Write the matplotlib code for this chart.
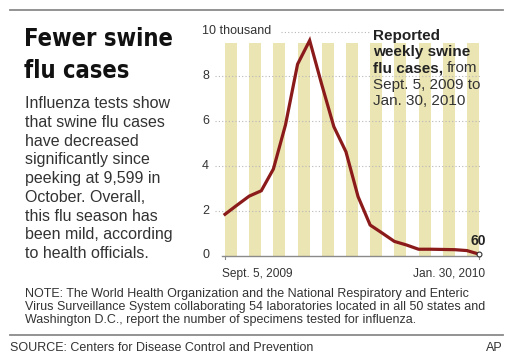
import matplotlib
matplotlib.use("Agg")
import matplotlib.pyplot as plt

# weekly reported swine flu cases (thousands), Sept. 5, 2009 .. Jan. 30, 2010
weeks = list(range(22))
cases = [1.84, 2.25, 2.65, 2.89, 3.86, 5.83, 8.54, 9.599, 7.63, 5.75, 4.63,
         2.63, 1.36, 1.00, 0.63, 0.47, 0.28, 0.28, 0.27, 0.26, 0.22, 0.06]
yticks = [0, 2, 4, 6, 8, 10]
ytick_labels = ["0", "2", "4", "6", "8", "10 thousand"]
first_label = "Sept. 5, 2009"
last_label = "Jan. 30, 2010"
last_value_label = "60"

W, H = 512, 361
plt.rcParams['font.family'] = ['Liberation Sans', 'DejaVu Sans']

fig = plt.figure(figsize=(W / 100, H / 100), dpi=100)
fig.patch.set_facecolor("white")


def fx(x):
    return x / W


def fy(y):
    return 1 - y / H


txt = "#333333"
line_red = "#8b1a1a"
stripe = "#ebe4b3"
grid = "#b8b8b8"

# top and bottom rules
fig.add_artist(plt.Line2D([fx(10), fx(503)], [fy(10), fy(10)], color="#8a8a8a", lw=1.3))
fig.add_artist(plt.Line2D([fx(10), fx(503)], [fy(335), fy(335)], color="#8a8a8a", lw=1.3))

# headline (va='baseline' on multi-line text anchors the last line)
fig.text(fx(24), fy(78), "Fewer swine\nflu cases", fontsize=17, fontweight="bold",
         family="DejaVu Sans", fontstretch="condensed", color="#111111",
         va="baseline", linespacing=1.42)

body = ("Influenza tests show\nthat swine flu cases\nhave decreased\n"
        "significantly since\npeeking at 9,599 in\nOctober. Overall,\n"
        "this flu season has\nbeen mild, according\nto health officials.")
fig.text(fx(25), fy(258), body, fontsize=11.5, color=txt, va="baseline",
         linespacing=1.31)

note = ("NOTE: The World Health Organization and the National Respiratory and Enteric\n"
        "Virus Surveillance System collaborating 54 laboratories located in all 50 states and\n"
        "Washington D.C., report the number of specimens tested for influenza.")
fig.text(fx(25), fy(323), note, fontsize=9.0, color=txt, va="baseline", linespacing=1.1)

fig.text(fx(10), fy(351), "SOURCE: Centers for Disease Control and Prevention",
         fontsize=9.0, color=txt, va="baseline")
fig.text(fx(503), fy(351), "AP", fontsize=9.0, color=txt, va="baseline", ha="right")

# chart axes: week 0 at x=225px, week 21 at x=479px; 0 at y=255.5px, 22.4px per thousand
px_week = (479 - 225) / 21
px_unit = 22.4
x0, x1 = -1.0, 21.5
y0, y1 = -0.3, 10.3
left = 225 + x0 * px_week
right = 225 + x1 * px_week
top = 255.5 - y1 * px_unit
bottom = 255.5 - y0 * px_unit
ax = fig.add_axes([fx(left), fy(bottom), (right - left) / W, (bottom - top) / H])
ax.set_xlim(x0, x1)
ax.set_ylim(y0, y1)
ax.axis("off")

# alternating week stripes
ax.bar([w + 0.5 for w in weeks[0:21:2]], 9.5, width=1.0, color=stripe, lw=0, zorder=1)

# dotted gridlines
for v in yticks[1:-1]:
    ax.plot([-0.83, 21.05], [v, v], ls=(0, (1, 2)), color=grid, lw=0.8, zorder=2)
ax.plot([4.6, 11.9], [10, 10], ls=(0, (1, 2)), color=grid, lw=0.8, zorder=2)

# y labels
for v, lab in zip(yticks, ytick_labels):
    ax.text(-1.9, v, lab, ha="left", va="center", fontsize=9.0, color=txt)

# x axis
ax.plot([-0.25, 21.1], [0, 0], color="#8a8a8a", lw=1.0, zorder=3)
for w in (weeks[0], weeks[-1]):
    ax.plot([w, w], [0, -0.15], color="#8a8a8a", lw=0.8, zorder=3)
ax.text(weeks[0] - 0.25, -0.55, first_label, ha="left", va="top", fontsize=8.6, color=txt)
ax.text(weeks[-1] + 0.5, -0.55, last_label, ha="right", va="top", fontsize=8.6, color=txt)

ax.plot(weeks, cases, color=line_red, lw=2.3, solid_joinstyle="miter", zorder=4)
ax.plot(weeks[-1], cases[-1], "o", ms=3.5, mfc="white", mec="#333333", mew=0.8,
        zorder=5, clip_on=False)
ax.text(weeks[-1] - 0.1, cases[-1] + 0.42, last_value_label, ha="center", va="baseline",
        fontsize=10, fontweight="bold", color="#222222")

# annotation
ann_x = fx(373)
fs = 11
fig.text(ann_x, fy(55.8), "Reported\nweekly swine", fontsize=fs, fontweight="bold",
         color="#222222", va="baseline", linespacing=1.18)
t = fig.text(ann_x, fy(72.3), "flu cases,", fontsize=fs, fontweight="bold",
             color="#222222", va="baseline")
r = fig.canvas.get_renderer()
bb = t.get_window_extent(renderer=r)
fig.text(bb.x1 / W + fx(3.5), fy(72.3), "from", fontsize=fs, color=txt, va="baseline")
fig.text(ann_x, fy(105.3), "Sept. 5, 2009 to\nJan. 30, 2010", fontsize=fs, color=txt,
         va="baseline", linespacing=1.18)

fig.savefig("out.png", dpi=100)
